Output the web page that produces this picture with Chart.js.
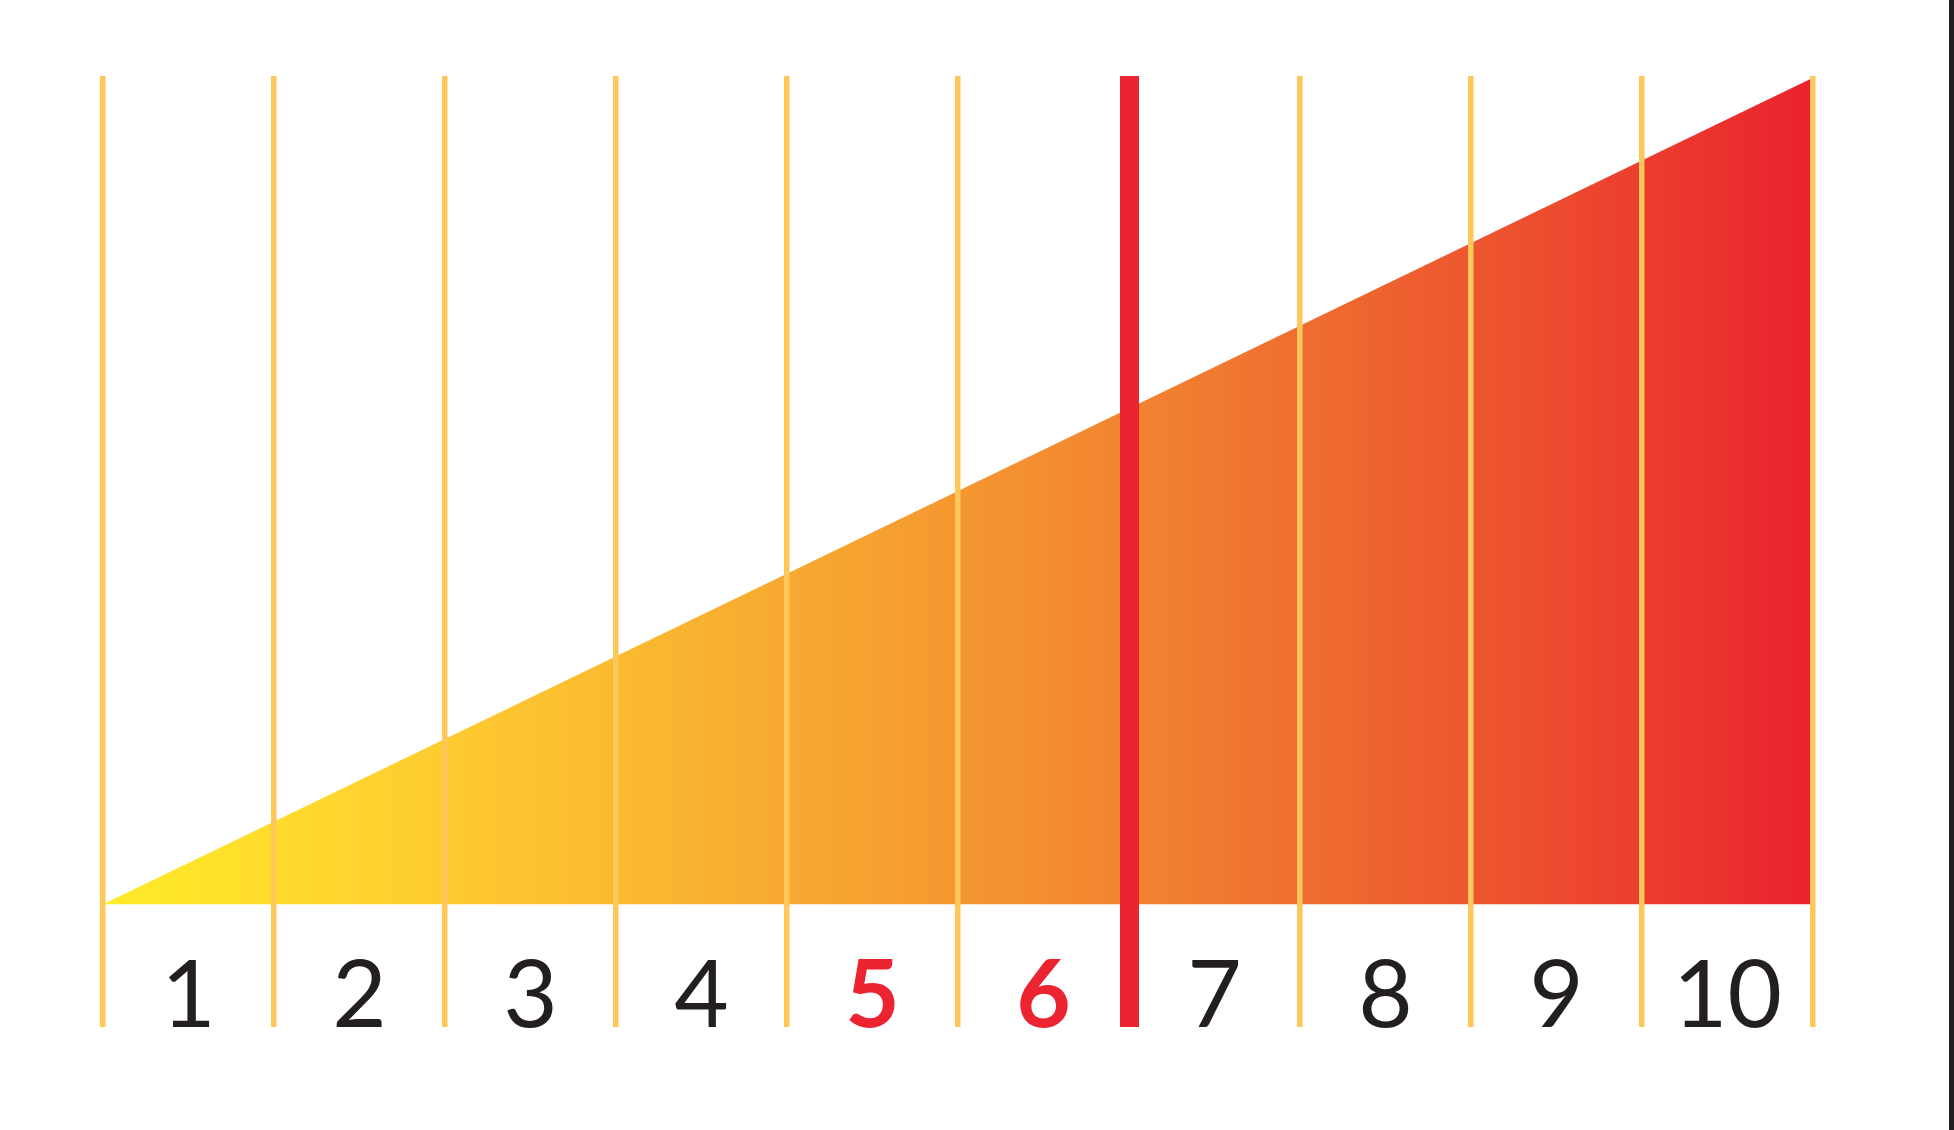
<!DOCTYPE html>
<html>
<head>
<meta charset="utf-8">
<script src="https://cdn.jsdelivr.net/npm/chart.js@4"></script>
<style>
  html, body { margin: 0; padding: 0; background: #fff; }
  #wrap { position: relative; width: 1954px; height: 1130px; }
  #wrap:after { content: ''; position: absolute; right: 0; top: 0; width: 5px; height: 100%; background: #231f20; }
</style>
</head>
<body>
<div id="wrap"><canvas id="chart-data" width="1954" height="1130"></canvas></div>
<script>
// scale 1..10, the ramp rises linearly across it
const labels = ['1', '2', '3', '4', '5', '6', '7', '8', '9', '10'];
const rampX = [0, 10];
const rampY = [0, 10];
const highlight = ['5', '6'];   // labels drawn red/bold
const markerAt = 6;              // the thick red divider

const ctx = document.getElementById('chart-data');

const labelPlugin = {
  id: 'scaleLabels',
  afterDraw(chart) {
    const x = chart.scales.x;
    const c = chart.ctx;
    c.save();
    c.textAlign = 'center';
    c.textBaseline = 'alphabetic';
    labels.forEach((lab, i) => {
      const hot = highlight.includes(lab);
      c.font = (hot ? 'bold ' : '') + '94px Lato';
      c.fillStyle = hot ? '#ec2330' : '#231f20';
      c.fillText(lab, x.getPixelForValue(i + 0.5), chart.chartArea.bottom);
    });
    c.restore();
  }
};

const chart = new Chart(ctx, {
  type: 'line',
  data: {
    datasets: [{
      data: rampX.map((v, i) => ({ x: v, y: rampY[i] })),
      borderWidth: 0,
      pointRadius: 0,
      fill: 'origin',
      backgroundColor: (c) => {
        const area = c.chart.chartArea;
        if (!area) return '#f39a2e';
        const g = c.chart.ctx.createLinearGradient(area.left, 0, area.right, 0);
        g.addColorStop(0, '#ffec28');
        g.addColorStop(0.2, '#fecb30');
        g.addColorStop(0.45, '#f6a131');
        g.addColorStop(0.65, '#f07a30');
        g.addColorStop(0.85, '#ec4b2e');
        g.addColorStop(1, '#ea222e');
        return g;
      }
    }]
  },
  options: {
    responsive: false,
    animation: false,
    layout: { padding: { left: 103, right: 141, top: 76, bottom: 103 } },
    plugins: { legend: { display: false }, tooltip: { enabled: false } },
    scales: {
      x: {
        type: 'linear',
        min: 0,
        max: 10,
        border: { display: false },
        ticks: { display: false, stepSize: 1 },
        grid: {
          drawTicks: false,
          z: 1,
          color: (c) => c.tick && c.tick.value === markerAt ? '#ec2330' : '#fec75a',
          lineWidth: (c) => c.tick && c.tick.value === markerAt ? 19 : 5.5
        }
      },
      y: {
        display: false,
        min: -1.485,
        max: 10.02
      }
    }
  },
  plugins: [labelPlugin]
});
</script>
</body>
</html>
